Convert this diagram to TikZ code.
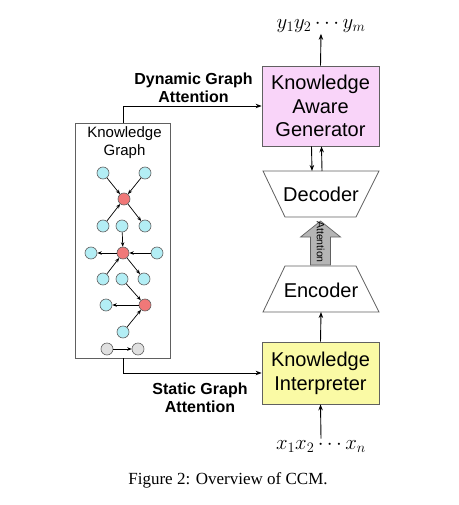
\documentclass[tikz,border=0pt]{standalone}
\usepackage{fontspec}
\setmainfont{Liberation Serif}
\setsansfont{Liberation Sans}
\usetikzlibrary{arrows.meta}
\definecolor{pinkc}{HTML}{F9D4F9}
\definecolor{yellc}{HTML}{FAFAA5}
\definecolor{cyanc}{HTML}{B3EEF5}
\definecolor{redc}{HTML}{F07878}
\definecolor{grayn}{HTML}{E0E0E0}
\definecolor{edgec}{HTML}{606060}
\definecolor{attc}{HTML}{B5B5B5}
\tikzset{
  conn/.style={line width=0.9pt,-{Stealth[length=6pt,width=4.5pt]}},
  gedge/.style={line width=0.7pt,-{Stealth[length=4.5pt,width=3.5pt]}},
  bigbox/.style={draw=edgec,line width=0.8pt,minimum width=117pt,align=center,font=\sffamily\fontsize{20}{23.5}\selectfont},
  cyan node/.style={circle,draw=edgec,line width=0.6pt,fill=cyanc,minimum size=12pt,inner sep=0pt},
  red node/.style={circle,draw=edgec,line width=0.6pt,fill=redc,minimum size=12pt,inner sep=0pt},
  gray node/.style={circle,draw=edgec,line width=0.6pt,fill=grayn,minimum size=12pt,inner sep=0pt},
  trap/.style={draw=edgec,line width=0.8pt,fill=white},
  boldlab/.style={align=center,font=\sffamily\bfseries\fontsize{16}{18}\selectfont},
  inlab/.style={font=\sffamily\fontsize{20}{24}\selectfont},
}
\begin{document}
\begin{tikzpicture}[x=1pt,y=-1pt]
\useasboundingbox (0,0) rectangle (458,505);
% Generator and interpreter
\node[bigbox,fill=pinkc,minimum height=80pt] (gen) at (320.5,106) {Knowledge\\Aware\\Generator};
\node[bigbox,fill=yellc,minimum height=62pt,font=\sffamily\fontsize{20}{24}\selectfont] (interp) at (320.5,373) {Knowledge\\Interpreter};
% Decoder / Encoder trapezoids
\draw[trap] (263,171) -- (379,171) -- (356,217) -- (285,217) -- cycle;
\node[inlab] (dec) at (321,194) {Decoder};
\draw[trap] (285,266) -- (356,266) -- (379,312) -- (263,312) -- cycle;
\node[inlab] (enc) at (321,290) {Encoder};
\coordinate (dectop) at (321,171);
\coordinate (encbot) at (321,312);
% Attention arrow
\draw[draw=edgec,line width=0.7pt,fill=attc] (310.5,265) -- (310.5,237) -- (300.5,237) -- (320.5,221) -- (340.5,237) -- (330.5,237) -- (330.5,265) -- cycle;
\node[rotate=-90,font=\sffamily\fontsize{10.5}{12}\selectfont,inner sep=0pt] (att) at (320.5,242) {Attention};
% Input / output
\node[inner sep=1pt,font=\fontsize{20}{24}\selectfont] (ytext) at (321,26) {$y_1y_2\cdots y_m$};
\node[inner sep=1pt,font=\fontsize{20}{24}\selectfont] (xtext) at (321,446) {$x_1x_2\cdots x_n$};
\draw[conn] (gen.north) -- (ytext.south);
\draw[conn] (xtext.north) -- (interp.south);
\draw[conn] (interp.north) -- (encbot);
\draw[conn] ([xshift=-9pt]gen.south) -- ([xshift=-9pt]dectop);
\draw[conn] ([xshift=1pt]dectop) -- ([xshift=1pt]gen.south);
% Knowledge graph box
\node[draw=edgec,line width=0.8pt,minimum width=95pt,minimum height=235pt,inner sep=0pt] (kg) at (123,240.5) {};
\node[align=center,font=\sffamily\fontsize{15}{18}\selectfont] (kglab) at (124.5,143) {Knowledge\\Graph};
% graph nodes
\node[cyan node] (a1) at (103,173) {};
\node[cyan node] (a2) at (145,173) {};
\node[red node] (r1) at (124,199) {};
\node[cyan node] (b1) at (103,226) {};
\node[cyan node] (b2) at (122,226) {};
\node[cyan node] (b3) at (145,226) {};
\node[red node] (r2) at (123,253) {};
\node[cyan node] (c1) at (91,253) {};
\node[cyan node] (c2) at (157,253) {};
\node[cyan node] (d1) at (103,279) {};
\node[cyan node] (d2) at (122,279) {};
\node[cyan node] (d3) at (144,279) {};
\node[red node] (r3) at (145,305) {};
\node[cyan node] (e1) at (106,305) {};
\node[cyan node] (e2) at (123,332) {};
\node[gray node] (g1) at (107,349) {};
\node[gray node] (g2) at (138,349) {};
\draw[gedge] (a1) -- (r1);
\draw[gedge] (a2) -- (r1);
\draw[gedge] (b1) -- (r1);
\draw[gedge] (r1) -- (b3);
\draw[gedge] (b2) -- (r2);
\draw[gedge] (r2) -- (c1);
\draw[gedge] (c2) -- (r2);
\draw[gedge] (d1) -- (r2);
\draw[gedge] (r2) -- (d3);
\draw[gedge] (d2) -- (r3);
\draw[gedge] (r3) -- (e1);
\draw[gedge] (e2) -- (r3);
\draw[gedge] (g1) -- (g2);
% graph attention connectors
\draw[conn] (kg.north) |- (gen.west);
\draw[conn] (kg.south) |- (interp.west);
\node[boldlab] (dynlab) at (193.5,88) {Dynamic Graph\\Attention};
\node[boldlab] (statlab) at (200,398) {Static Graph\\Attention};
% caption
\node[font=\fontsize{17}{20}\selectfont] (cap) at (228,480) {Figure 2: Overview of CCM.};
\end{tikzpicture}
\end{document}
